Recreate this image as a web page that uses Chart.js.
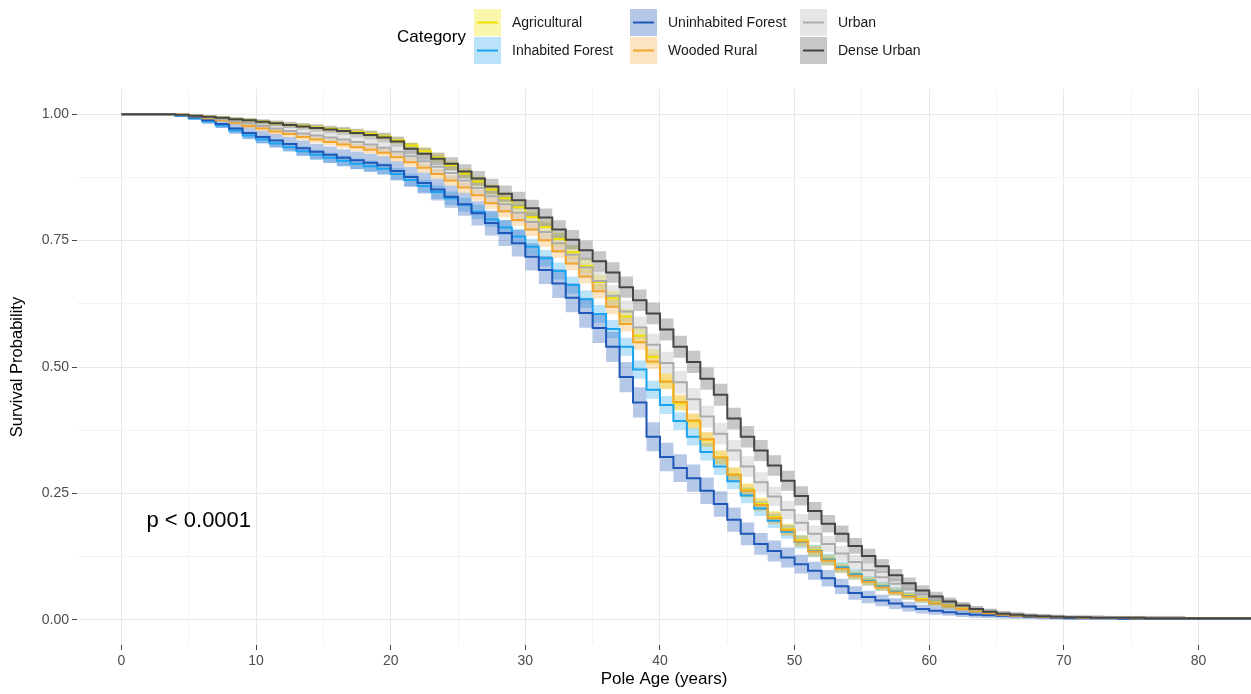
<!DOCTYPE html>
<html>
<head>
<meta charset="utf-8">
<script src="https://cdn.jsdelivr.net/npm/chart.js@4.4.1/dist/chart.umd.min.js"></script>
<style>
  body { margin: 0; background: #fff; }
  #wrap { width: 1251px; height: 694px; }
</style>
</head>
<body>
<div id="wrap"><canvas id="survPlot" width="1251" height="694"></canvas></div>
<script>
// survival curves, one value per year of pole age (0..84)
const ages = Array.from({ length: 85 }, (_, i) => i)

const categories = ['Agricultural', 'Inhabited Forest', 'Uninhabited Forest', 'Wooded Rural', 'Urban', 'Dense Urban']

const agricultural = [1, 1, 1, 1, 1,
  .999, .997, .995, .993, .990, .988, .985, .982, .979, .977, .974, .971, .968, .965, .961,
  .956, .948, .938, .927, .914, .899, .883, .867, .851, .834, .816, .797, .777, .753, .727,
  .700, .668, .636, .600, .562, .520, .472, .428, .392, .356, .321, .288, .257, .229, .203,
  .179, .157, .137, .119, .103, .089, .077, .066, .056, .048, .041, .034, .028, .023, .018,
  .014, .011, .009, .008, .007, .006, .005, .005, .005, .004, .004, .004, .004, .004, .004,
  .003, .003, .003, .003, .003]

const inhabitedForest = [1, 1, 1, 1, 1,
  .997, .992, .986, .978, .968, .958, .950, .942, .935, .927, .920, .914, .908, .902, .897,
  .892, .882, .870, .858, .846, .834, .821, .807, .792, .776, .758, .738, .715, .690, .662,
  .634, .605, .575, .540, .495, .455, .425, .393, .362, .332, .303, .274, .246, .220, .196,
  .174, .154, .136, .119, .104, .090, .077, .066, .056, .047, .039, .032, .026, .021, .017,
  .013, .010, .008, .007, .006, .005, .005, .004, .004, .004, .003, .003, .003, .003, .003,
  .003, .002, .002, .002, .002]

const uninhabitedForest = [1, 1, 1, 1, 1,
  .998, .994, .988, .981, .972, .963, .955, .948, .941, .933, .926, .920, .914, .909, .904,
  .899, .888, .876, .864, .851, .837, .822, .804, .785, .765, .745, .718, .692, .665, .637,
  .607, .577, .540, .480, .430, .362, .322, .300, .280, .255, .229, .198, .170, .150, .136,
  .123, .110, .097, .082, .066, .053, .045, .038, .032, .026, .021, .018, .015, .012, .010,
  .009, .008, .007, .006, .005, .004, .003, .003, .003, .003, .002, .002, .002, .002, .002,
  .002, .002, .002, .002, .002]

const woodedRural = [1, 1, 1, 1, 1,
  .999, .996, .992, .988, .983, .977, .972, .966, .961, .955, .950, .945, .940, .935, .930,
  .924, .915, .905, .894, .882, .869, .855, .840, .824, .808, .791, .772, .751, .729, .705,
  .679, .650, .619, .585, .549, .511, .471, .431, .394, .357, .321, .287, .255, .227, .201,
  .177, .155, .135, .117, .101, .087, .075, .064, .054, .046, .039, .032, .026, .021, .017,
  .013, .010, .008, .007, .006, .005, .005, .004, .004, .004, .004, .003, .003, .003, .003,
  .003, .003, .003, .003, .003]

const urban = [1, 1, 1, 1, 1,
  .999, .997, .994, .990, .986, .982, .977, .972, .967, .962, .958, .954, .950, .945, .940,
  .934, .926, .917, .907, .896, .884, .869, .854, .838, .822, .805, .787, .767, .745, .722,
  .697, .670, .641, .610, .578, .544, .508, .470, .436, .402, .368, .335, .303, .272, .244,
  .217, .192, .170, .150, .131, .114, .098, .084, .071, .060, .050, .041, .033, .026, .020,
  .016, .013, .011, .009, .008, .007, .006, .006, .006, .005, .005, .005, .005, .005, .005,
  null, null, null, null, null]

const denseUrban = [1, 1, 1, 1, 1,
  .999, .997, .995, .993, .990, .988, .985, .982, .979, .976, .973, .970, .967, .963, .959,
  .954, .946, .932, .922, .912, .902, .887, .873, .857, .843, .830, .814, .796, .772, .752,
  .731, .709, .687, .658, .632, .606, .574, .540, .510, .477, .445, .398, .362, .335, .305,
  .275, .245, .215, .190, .170, .146, .126, .106, .088, .072, .058, .046, .036, .028, .021,
  .016, .012, .010, .008, .007, .006, .005, .005, .004, .004, .004, .004, .003, .003, .003,
  .003, .003, .003, .003, .003]

// half width of the 95% band where survival is near 0.5
const bandHalfWidth = [0.015, 0.018, 0.03, 0.015, 0.022, 0.022]

const xTicks = [0, 10, 20, 30, 40, 50, 60, 70, 80]
const yTicks = [0, 0.25, 0.5, 0.75, 1]

const lineColors = ['#efe100', '#1aa3f0', '#1f58b8', '#f2a52c', '#ababab', '#454545']
const bandColors = ['rgba(240,228,0,0.32)', 'rgba(26,163,240,0.3)', 'rgba(31,88,184,0.33)',
  'rgba(242,165,44,0.3)', 'rgba(171,171,171,0.3)', 'rgba(69,69,69,0.3)']

;(() => {
  'use strict'

  const series = [agricultural, inhabitedForest, uninhabitedForest, woodedRural, urban, denseUrban]
  const FONT = '"Liberation Sans", Arial, sans-serif'

  const toPoints = (vals) => ages.map((a, i) => ({ x: a, y: vals[i] }))
  const bandSide = (vals, hw, sign) => ages.map((a, i) => {
    const s = vals[i]
    if (s === null) return { x: a, y: null }
    const y = s + sign * hw * 2 * Math.sqrt(s * (1 - s))
    return { x: a, y: Math.min(1, Math.max(0, y)) }
  })

  const datasets = []
  series.forEach((vals, i) => {
    const ord = (series.length - i) * 3
    datasets.push({
      label: categories[i] + ' lower',
      data: bandSide(vals, bandHalfWidth[i], -1),
      stepped: 'after', borderWidth: 0, pointRadius: 0, fill: false, order: ord + 2
    })
    datasets.push({
      label: categories[i] + ' upper',
      data: bandSide(vals, bandHalfWidth[i], 1),
      stepped: 'after', borderWidth: 0, pointRadius: 0,
      fill: '-1', backgroundColor: bandColors[i], order: ord + 1
    })
    datasets.push({
      label: categories[i],
      data: toPoints(vals),
      stepped: 'after', borderColor: lineColors[i], borderWidth: 2,
      pointRadius: 0, fill: false, order: ord
    })
  })

  const decorations = {
    id: 'decorations',
    afterDraw(chart) {
      const { ctx, scales } = chart
      ctx.save()
      // p-value
      ctx.fillStyle = '#000'
      ctx.font = '22px ' + FONT
      ctx.textAlign = 'left'
      ctx.textBaseline = 'middle'
      ctx.fillText('p < 0.0001', scales.x.getPixelForValue(1.86), scales.y.getPixelForValue(0.195))

      // legend, ggplot style
      ctx.font = '17px ' + FONT
      ctx.fillText('Category', 397, 37)
      const colX = [474, 630, 800]
      const rowY = [9, 37]
      ctx.font = '14px ' + FONT
      categories.forEach((name, i) => {
        const kx = colX[Math.floor(i / 2)]
        const ky = rowY[i % 2]
        ctx.fillStyle = bandColors[i]
        ctx.fillRect(kx, ky, 27, 27)
        ctx.strokeStyle = lineColors[i]
        ctx.lineWidth = 2
        ctx.beginPath()
        ctx.moveTo(kx + 3, ky + 13.5)
        ctx.lineTo(kx + 24, ky + 13.5)
        ctx.stroke()
        ctx.fillStyle = '#1a1a1a'
        ctx.fillText(name, kx + 38, ky + 14)
      })
      ctx.restore()
    }
  }

  const isMajor = (v, step) => Math.abs(v / step - Math.round(v / step)) < 1e-9

  new Chart(document.getElementById('survPlot'), {
    type: 'line',
    data: { datasets },
    plugins: [decorations],
    options: {
      responsive: false,
      animation: false,
      devicePixelRatio: 1,
      layout: { padding: { top: 89, right: 0, left: 0, bottom: 0 } },
      plugins: {
        legend: { display: false },
        tooltip: { enabled: false },
        filler: { drawTime: 'beforeDatasetsDraw' }
      },
      scales: {
        x: {
          type: 'linear',
          min: -3.3,
          max: 83.9,
          afterBuildTicks: (scale) => {
            const t = []
            for (let v = 0; v <= 80; v += 5) t.push({ value: v })
            scale.ticks = t
          },
          afterFit: (scale) => { scale.height = 49 },
          border: { display: false },
          grid: {
            color: (c) => isMajor(c.tick.value, 10) ? '#e8e8e8' : '#f3f3f3',
            tickColor: (c) => isMajor(c.tick.value, 10) ? '#444' : 'rgba(0,0,0,0)',
            tickLength: 5
          },
          ticks: {
            autoSkip: false,
            maxRotation: 0,
            padding: 3,
            color: '#4d4d4d',
            font: { family: FONT, size: 14 },
            callback: (v) => xTicks.includes(v) ? String(v) : ''
          },
          title: {
            display: true,
            text: 'Pole Age (years)',
            color: '#000',
            font: { family: FONT, size: 17 },
            padding: { top: 0, bottom: 4 }
          }
        },
        y: {
          type: 'linear',
          min: -0.05,
          max: 1.05,
          afterBuildTicks: (scale) => {
            const t = []
            for (let k = 0; k <= 8; k++) t.push({ value: k / 8 })
            scale.ticks = t
          },
          afterFit: (scale) => { scale.width = 77 },
          border: { display: false },
          grid: {
            color: (c) => isMajor(c.tick.value, 0.25) ? '#e8e8e8' : '#f3f3f3',
            tickColor: (c) => isMajor(c.tick.value, 0.25) ? '#444' : 'rgba(0,0,0,0)',
            tickLength: 5
          },
          ticks: {
            autoSkip: false,
            padding: 3,
            color: '#4d4d4d',
            font: { family: FONT, size: 14 },
            callback: (v) => yTicks.some((t) => Math.abs(t - v) < 1e-9) ? v.toFixed(2) : ''
          },
          title: {
            display: true,
            text: 'Survival Probability',
            color: '#000',
            font: { family: FONT, size: 16.5 },
            padding: { top: 8, bottom: 0 }
          }
        }
      }
    }
  })
})()
</script>
</body>
</html>
